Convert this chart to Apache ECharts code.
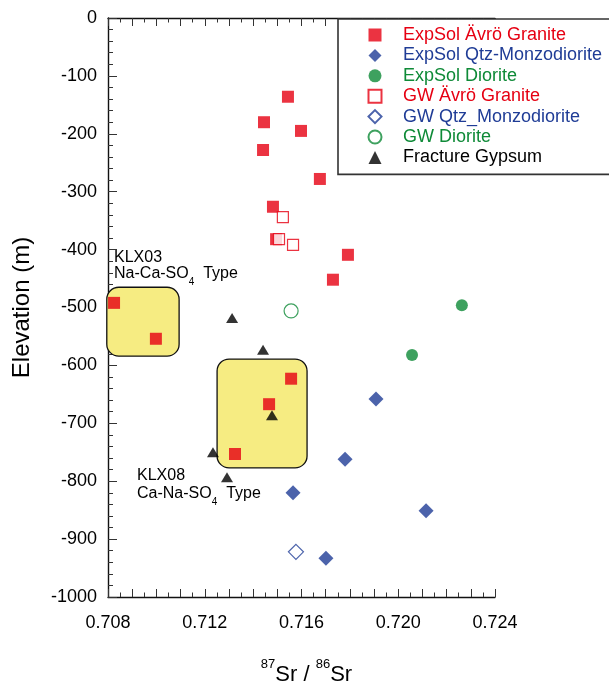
<!DOCTYPE html>
<html>
<head>
<meta charset="utf-8">
<title>87Sr/86Sr vs elevation</title>
<script src="https://cdn.jsdelivr.net/npm/echarts@6.0.0/dist/echarts.min.js"></script>
<style>
  html, body { margin: 0; padding: 0; background: #ffffff; }
  #chart { width: 609px; height: 684px; }
</style>
</head>
<body>
<div id="chart"></div>
<script>
// 87Sr/86Sr ratio against sampling elevation (m)
const expSolGranite = [
  [0.71544, -136], [0.71445, -180], [0.71598, -195], [0.71441, -228],
  [0.71676, -278], [0.71482, -326], [0.71495, -382], [0.71792, -409],
  [0.71730, -452], [0.70825, -492], [0.70998, -554], [0.71557, -623],
  [0.71466, -667], [0.71325, -753]
];
const expSolMonzo = [
  [0.71908, -658], [0.71780, -762], [0.71565, -820], [0.72115, -851], [0.71701, -933]
];
const expSolDiorite = [[0.72263, -496], [0.72057, -582]];
const gwGranite = [[0.71523, -344], [0.71507, -382], [0.71565, -392]];
const gwMonzo = [[0.71577, -922]];
const gwDiorite = [[0.71557, -506]];
const fractureGypsum = [
  [0.71313, -518], [0.71441, -573], [0.71478, -686], [0.71234, -750], [0.71292, -793]
];

// Water-type groupings: [x0, yTop, x1, yBottom]
const typeBoxes = [
  [0.70795, -465, 0.71094, -584],
  [0.71251, -589, 0.71623, -777]
];
// Group captions: [x, y, index into captionText]
const captionAnchors = [
  [0.70825, -413, 0], [0.70825, -442, 1],
  [0.70920, -791, 2], [0.70920, -822, 3]
];
const captionText = ['KLX03', 'Na-Ca-SO{sub|4}  Type', 'KLX08', 'Ca-Na-SO{sub|4}  Type'];

const xTickLabels = ['0.708', '0.712', '0.716', '0.720', '0.724'];
const yTickLabels = ['0', '-100', '-200', '-300', '-400', '-500', '-600', '-700', '-800', '-900', '-1000'];

const seriesNames = [
  'ExpSol Ävrö Granite', 'ExpSol Qtz-Monzodiorite', 'ExpSol Diorite',
  'GW Ävrö Granite', 'GW Qtz_Monzodiorite', 'GW Diorite', 'Fracture Gypsum'
];

const RED = '#E60012';
const BLUE = '#1F3C96';
const GREEN = '#0E8A37';
const BLACK = '#000000';
const BOX_FILL = '#F6EC82';
const FONT = '"Liberation Sans", Arial, Helvetica, sans-serif';
const seriesColors = [RED, BLUE, GREEN, RED, BLUE, GREEN, BLACK];

const X_MIN = 0.708, X_MAX = 0.724, Y_MIN = -1000, Y_MAX = 0;

function pickLabel(list, value, start, step) {
  const i = Math.round((value - start) / step);
  return list[i] !== undefined ? list[i] : '';
}

const tickAxisStyle = {
  axisLine: { show: true, onZero: false, lineStyle: { color: '#111', width: 1.4 } },
  axisTick: { show: true, inside: true, length: 8, lineStyle: { color: '#333', width: 1 } },
  minorTick: { show: true, splitNumber: 2, length: 4.5, lineStyle: { color: '#333', width: 1 } },
  splitLine: { show: false },
  minorSplitLine: { show: false }
};

const chart = echarts.init(document.getElementById('chart'), null, { renderer: 'canvas' });

chart.setOption({
  animation: false,
  backgroundColor: '#ffffff',
  textStyle: { fontFamily: FONT },
  grid: { left: 108, right: 114, top: 18, bottom: 87, containLabel: false, outerBoundsMode: 'none' },
  xAxis: [
    Object.assign({
      type: 'value', position: 'bottom', min: X_MIN, max: X_MAX, interval: 0.001,
      axisLabel: { show: false },
      name: '{sup|87}{main|Sr / }{sup|86}{main|Sr}',
      nameLocation: 'middle', nameGap: 61,
      nameTextStyle: {
        padding: [0, 0, 0, 10],
        rich: {
          main: { fontSize: 22, fontFamily: FONT, color: '#000', lineHeight: 28, verticalAlign: 'bottom' },
          sup: { fontSize: 13, fontFamily: FONT, color: '#000', lineHeight: 14, verticalAlign: 'top' }
        }
      }
    }, tickAxisStyle),
    {
      type: 'value', position: 'bottom', min: X_MIN, max: X_MAX, interval: 0.004,
      axisLine: { show: false }, axisTick: { show: false }, splitLine: { show: false },
      axisLabel: {
        margin: 17, fontSize: 18, color: '#000', fontFamily: FONT,
        formatter: v => pickLabel(xTickLabels, v, X_MIN, 0.004)
      }
    },
    Object.assign({
      type: 'value', position: 'top', min: X_MIN, max: X_MAX, interval: 0.001,
      axisLabel: { show: false }
    }, tickAxisStyle)
  ],
  yAxis: [
    {
      type: 'value', position: 'left', min: Y_MIN, max: Y_MAX, interval: 100,
      axisLine: { show: true, onZero: false, lineStyle: { color: '#111', width: 1.4 } },
      axisTick: { show: true, inside: true, length: 9, lineStyle: { color: '#333', width: 1 } },
      minorTick: { show: true, splitNumber: 5, length: 5, lineStyle: { color: '#333', width: 1 } },
      splitLine: { show: false },
      axisLabel: {
        margin: 11, fontSize: 18, color: '#000', fontFamily: FONT,
        formatter: v => pickLabel(yTickLabels, -v, 0, 100)
      },
      name: 'Elevation (m)', nameLocation: 'middle', nameGap: 74,
      nameTextStyle: { fontSize: 24, color: '#000', fontFamily: FONT }
    }
  ],
  legend: {
    orient: 'vertical', left: 338, top: 19,
    itemWidth: 13, itemHeight: 13, itemGap: 2.4,
    padding: [7, 12, 8, 29.5],
    backgroundColor: '#ffffff',
    borderColor: '#333', borderWidth: 1.6, borderRadius: 0,
    textStyle: { fontSize: 18, fontFamily: FONT, lineHeight: 18, padding: [0, 0, 0, 16.5] },
    data: seriesNames.map((n, i) => ({ name: n, textStyle: { color: seriesColors[i] } })),
    selectedMode: false, z: 20
  },
  series: [
    {
      type: 'custom', name: 'typeBoxes', xAxisIndex: 0, yAxisIndex: 0, z: 1, silent: true,
      clip: false,
      data: typeBoxes,
      encode: { x: [0, 2], y: [1, 3] },
      renderItem: function (params, api) {
        const a = api.coord([api.value(0), api.value(1)]);
        const b = api.coord([api.value(2), api.value(3)]);
        return {
          type: 'rect',
          shape: {
            x: Math.min(a[0], b[0]), y: Math.min(a[1], b[1]),
            width: Math.abs(b[0] - a[0]), height: Math.abs(b[1] - a[1]), r: 12
          },
          style: { fill: BOX_FILL, stroke: '#111', lineWidth: 1.3 }
        };
      }
    },
    {
      type: 'custom', name: 'captions', xAxisIndex: 0, yAxisIndex: 0, z: 2, silent: true,
      clip: false,
      data: captionAnchors,
      encode: { x: 0, y: 1 },
      renderItem: function (params, api) {
        const p = api.coord([api.value(0), api.value(1)]);
        return {
          type: 'text', x: p[0], y: p[1],
          style: {
            text: captionText[api.value(2)],
            fill: '#000', font: '16px ' + FONT,
            align: 'left', verticalAlign: 'middle',
            rich: {
              sub: { fontSize: 10, fontFamily: FONT, fill: '#000', padding: [11, 0, 0, 0], lineHeight: 10, verticalAlign: 'top' }
            }
          }
        };
      }
    },
    {
      name: seriesNames[0], type: 'scatter', data: expSolGranite, z: 5,
      symbol: 'rect', symbolSize: 12, itemStyle: { color: RED }
    },
    {
      name: seriesNames[1], type: 'scatter', data: expSolMonzo, z: 5,
      symbol: 'diamond', symbolSize: 15, itemStyle: { color: BLUE }
    },
    {
      name: seriesNames[2], type: 'scatter', data: expSolDiorite, z: 5,
      symbol: 'circle', symbolSize: 12, itemStyle: { color: GREEN }
    },
    {
      name: seriesNames[3], type: 'scatter', data: gwGranite, z: 6,
      symbol: 'rect', symbolSize: 11, itemStyle: { color: '#ffffff', borderColor: RED, borderWidth: 1.2 }
    },
    {
      name: seriesNames[4], type: 'scatter', data: gwMonzo, z: 6,
      symbol: 'diamond', symbolSize: 15, itemStyle: { color: '#ffffff', borderColor: BLUE, borderWidth: 1.2 }
    },
    {
      name: seriesNames[5], type: 'scatter', data: gwDiorite, z: 6,
      symbol: 'circle', symbolSize: 14, itemStyle: { color: '#ffffff', borderColor: GREEN, borderWidth: 1.2 }
    },
    {
      name: seriesNames[6], type: 'scatter', data: fractureGypsum, z: 7,
      symbol: 'triangle', symbolSize: [12, 10], itemStyle: { color: BLACK }
    }
  ]
});
</script>
</body>
</html>
